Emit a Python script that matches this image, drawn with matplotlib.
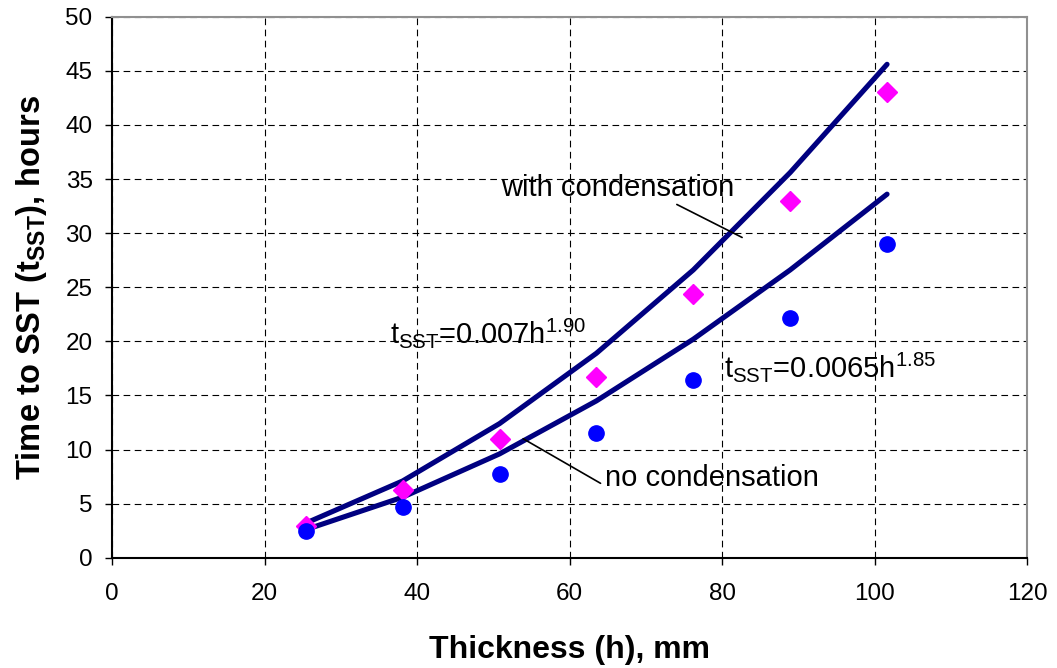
import matplotlib
matplotlib.use("Agg")
import matplotlib.pyplot as plt

plt.rcParams['font.family'] = ['Liberation Sans', 'DejaVu Sans']
plt.rcParams['mathtext.fontset'] = 'custom'
plt.rcParams['mathtext.rm'] = 'Liberation Sans'
plt.rcParams['mathtext.bf'] = 'Liberation Sans:bold'

# plate thickness, mm
thickness = [25.4, 38.1, 50.8, 63.5, 76.2, 88.9, 101.6]
# measured time to SST, hours
t_with_cond = [2.9, 6.3, 11.0, 16.7, 24.4, 33.0, 43.0]
t_no_cond = [2.5, 4.7, 7.7, 11.5, 16.4, 22.2, 29.0]
# fitted curves at the same thicknesses
fit_with_cond = [3.2, 7.1, 12.4, 18.9, 26.6, 35.6, 45.6]
fit_no_cond = [2.6, 5.6, 9.6, 14.5, 20.2, 26.6, 33.6]

x_ticks = [0, 20, 40, 60, 80, 100, 120]
y_ticks = [0, 5, 10, 15, 20, 25, 30, 35, 40, 45, 50]

fig = plt.figure(figsize=(10.57, 6.68), dpi=100)
ax = fig.add_axes([0.106, 0.165, 0.866, 0.81])

ax.plot(thickness, fit_with_cond, color='#000080', lw=3.7, solid_capstyle='round',
        solid_joinstyle='round', zorder=3)
ax.plot(thickness, fit_no_cond, color='#000080', lw=3.7, solid_capstyle='round',
        solid_joinstyle='round', zorder=3)
ax.plot(thickness, t_with_cond, ls='none', marker='D', ms=10, color='#FF00FF', zorder=4)
ax.plot(thickness, t_no_cond, ls='none', marker='o', ms=11, color='#0000FF', zorder=4)

ax.set_xlim(0, 120)
ax.set_ylim(0, 50)
ax.set_xticks(x_ticks)
ax.set_yticks(y_ticks)
ax.tick_params(labelsize=17.5, direction='out', length=5, width=1)
ax.tick_params(axis='y', pad=9)
ax.tick_params(axis='x', pad=13)
ax.grid(True, color='black', ls=(0, (6, 4)), lw=0.8)
ax.set_axisbelow(True)

for side in ('top', 'right'):
    ax.spines[side].set_color('#909090')
    ax.spines[side].set_linewidth(1.5)
for side in ('left', 'bottom'):
    ax.spines[side].set_color('black')
    ax.spines[side].set_linewidth(1.5)

ax.set_xlabel('Thickness (h), mm', fontsize=23, fontweight='bold', labelpad=22)
ax.set_ylabel(r'Time to SST (t$\mathbf{_{SST}}$), hours', fontsize=23.5,
              fontweight='bold', labelpad=12)

ax.annotate('with condensation', xy=(82.6, 29.6), xytext=(51, 34.2),
            fontsize=21, va='center', ha='left',
            arrowprops=dict(arrowstyle='-', color='black', lw=1.2,
                            shrinkA=0, shrinkB=0, relpos=(0.73, 0.0)))
ax.annotate('no condensation', xy=(53.9, 11.0), xytext=(64.6, 7.4),
            fontsize=21, va='center', ha='left',
            arrowprops=dict(arrowstyle='-', color='black', lw=1.2,
                            shrinkA=0, shrinkB=0, relpos=(-0.02, 0.3)))

ax.text(36.4, 20.8, r't$_{\mathregular{SST}}$=0.007h$^{\mathregular{1.90}}$',
        fontsize=21, va='center')
ax.text(80.2, 17.6, r't$_{\mathregular{SST}}$=0.0065h$^{\mathregular{1.85}}$',
        fontsize=21, va='center')

fig.savefig('out.png', dpi=100)
